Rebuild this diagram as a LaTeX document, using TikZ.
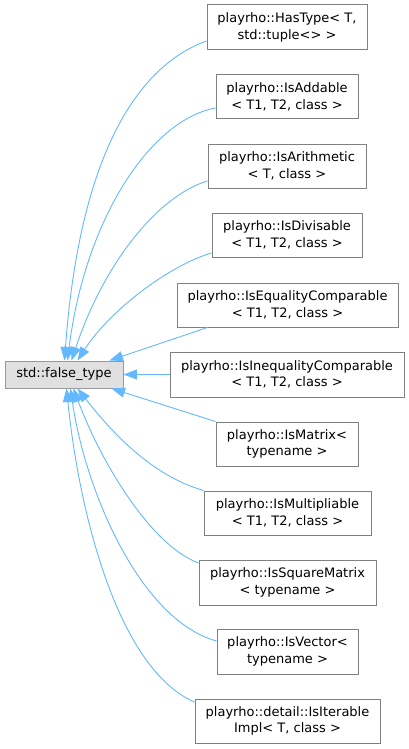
\documentclass[tikz,border=0pt]{standalone}
\usepackage{fontspec}
\setmainfont{DejaVu Sans}
\usetikzlibrary{arrows.meta}
\definecolor{edgeblue}{HTML}{63B8FF}
\definecolor{boxgray}{HTML}{808080}
\definecolor{basefill}{HTML}{E0E0E0}
\definecolor{basedraw}{HTML}{999999}
\tikzset{
  cls/.style={draw=boxgray, line width=1pt, fill=white, inner sep=0pt, align=center,
    minimum height=44pt, font=\fontsize{13}{16.5}\selectfont},
  basecls/.style={draw=basedraw, line width=1pt, fill=basefill, inner sep=0pt, align=center,
    minimum height=27pt, minimum width=118pt, font=\fontsize{13}{16.5}\selectfont},
  inh/.style={draw=edgeblue, line width=0.9pt, -{Triangle[length=13.5pt,width=10pt]}, fill=none},
}
\begin{document}
\begin{tikzpicture}[x=1pt,y=-1pt]
\useasboundingbox (0,0) rectangle (409,749);
\node[basecls] (ft) at (64,374.5) {std::false\_type};
\node[cls, minimum width=160pt, minimum height=45pt] (ht) at (287,27.5) {playrho::HasType< T,\\ std::tuple<> >};
\node[cls, minimum width=142pt] (ad) at (287,97) {playrho::IsAddable\\< T1, T2, class >};
\node[cls, minimum width=158pt] (ar) at (287,166) {playrho::IsArithmetic\\< T, class >};
\node[cls, minimum width=150pt] (dv) at (287,235) {playrho::IsDivisable\\< T1, T2, class >};
\node[cls, minimum width=221pt] (eq) at (287.5,305) {playrho::IsEqualityComparable\\< T1, T2, class >};
\node[cls, minimum width=234pt, minimum height=45pt] (ne) at (287,374.5) {playrho::IsInequalityComparable\\< T1, T2, class >};
\node[cls, minimum width=142pt] (mx) at (287,444) {playrho::IsMatrix<\\ typename >};
\node[cls, minimum width=167pt] (mu) at (287.5,513) {playrho::IsMultipliable\\< T1, T2, class >};
\node[cls, minimum width=177pt, minimum height=45pt] (sq) at (287.5,582.5) {playrho::IsSquareMatrix\\< typename >};
\node[cls, minimum width=141pt, minimum height=45pt] (vc) at (287.5,651.5) {playrho::IsVector<\\ typename >};
\node[cls, minimum width=185pt] (it) at (287.5,721) {playrho::detail::IsIterable\\Impl< T, class >};

\draw[inh] ([yshift=-13.5pt]ht.west) .. controls (140,65) and (80,150) .. ([xshift=60pt]ft.north west);
\draw[inh] ([yshift=-11pt]ad.west) .. controls (150,120) and (85,220) .. ([xshift=63pt]ft.north west);
\draw[inh] ([yshift=-15pt]ar.west) .. controls (160,195) and (105,260) .. ([xshift=67pt]ft.north west);
\draw[inh] ([yshift=-18pt]dv.west) .. controls (170,265) and (110,310) .. ([xshift=73pt]ft.north west);
\draw[inh] ([xshift=31pt]eq.south west) -- ([xshift=105pt]ft.north west);
\draw[inh] (ne.west) -- (ft.east);
\draw[inh] (mx.north west) -- ([xshift=107pt]ft.south west);
\draw[inh] (mu.north west) .. controls (150,475) and (110,430) .. ([xshift=73pt]ft.south west);
\draw[inh] ([yshift=19.5pt]sq.west) .. controls (150,545) and (100,460) .. ([xshift=69pt]ft.south west);
\draw[inh] ([yshift=10.5pt]vc.west) .. controls (140,620) and (85,490) .. ([xshift=66pt]ft.south west);
\draw[inh] ([yshift=19pt]it.west) .. controls (120,670) and (80,520) .. ([xshift=62pt]ft.south west);
\end{tikzpicture}
\end{document}
